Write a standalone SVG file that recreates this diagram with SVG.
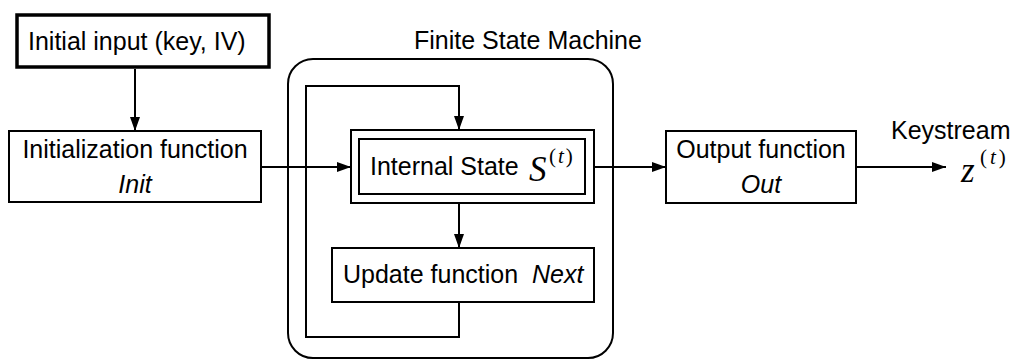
<svg xmlns="http://www.w3.org/2000/svg" width="1013" height="360" viewBox="0 0 1013 360">
<style>
.box{fill:#fff;stroke:#000;stroke-width:2}
.t{font-family:"Liberation Sans",Arial,sans-serif;font-size:25px;fill:#000}
.i{font-style:italic}
.m{font-family:"Liberation Serif","Times New Roman",serif;font-style:italic;fill:#000}
.p{font-family:"Liberation Serif","Times New Roman",serif;fill:#000}
.c{fill:none;stroke:#000;stroke-width:2}
</style>
<defs>
<marker id="ah" markerUnits="userSpaceOnUse" markerWidth="14" markerHeight="11" refX="14" refY="5.5" orient="auto">
<path d="M0,0.5 L14,5.5 L0,10.5 z" fill="#000"/>
</marker>
</defs>
<rect width="1013" height="360" fill="#fff"/>
<g id="fsm">
<rect x="288" y="59" width="325" height="299" rx="25" ry="25" fill="none" stroke="#000" stroke-width="2"/>
<text class="t" x="414" y="49">Finite State Machine</text>
</g>
<g id="connectors">
<line class="c" x1="135" y1="69" x2="135" y2="131" marker-end="url(#ah)"/>
<line class="c" x1="261" y1="167" x2="351" y2="167" marker-end="url(#ah)"/>
<polyline class="c" points="459,302 459,337 306,337 306,86 459,86 459,130" marker-end="url(#ah)"/>
<line class="c" x1="459" y1="203" x2="459" y2="248" marker-end="url(#ah)"/>
<line class="c" x1="594" y1="167" x2="666" y2="167" marker-end="url(#ah)"/>
<line class="c" x1="856" y1="167" x2="946" y2="167" marker-end="url(#ah)"/>
</g>
<g id="initial-input">
<rect x="17" y="15" width="252" height="52" fill="#fff" stroke="#000" stroke-width="3.5"/>
<text class="t" x="28" y="50">Initial input (key, IV)</text>
</g>
<g id="init-function">
<rect class="box" x="9" y="131" width="252" height="71"/>
<text class="t" x="135" y="158" text-anchor="middle">Initialization function</text>
<text class="t i" x="135" y="193" text-anchor="middle">Init</text>
</g>
<g id="internal-state">
<rect class="box" x="351" y="130" width="243" height="73"/>
<rect class="box" x="359" y="139" width="226" height="55"/>
<text class="t" x="370" y="175">Internal State</text>
<text class="m" x="529" y="181" font-size="35">S</text>
<text class="p" x="549" y="163" font-size="21">(<tspan class="m" dx="2">t</tspan><tspan dx="2">)</tspan></text>
</g>
<g id="update-function">
<rect class="box" x="332" y="248" width="262" height="54"/>
<text class="t" x="343" y="283">Update function</text>
<text class="t i" x="532" y="283">Next</text>
</g>
<g id="output-function">
<rect class="box" x="666" y="131" width="190" height="72"/>
<text class="t" x="761" y="158" text-anchor="middle">Output function</text>
<text class="t i" x="761" y="193" text-anchor="middle">Out</text>
</g>
<g id="keystream">
<text class="t" x="891" y="139">Keystream</text>
<text class="m" x="961" y="182" font-size="35">z</text>
<text class="p" x="980" y="164" font-size="21">(<tspan class="m" dx="3">t</tspan><tspan dx="3">)</tspan></text>
</g>
</svg>
